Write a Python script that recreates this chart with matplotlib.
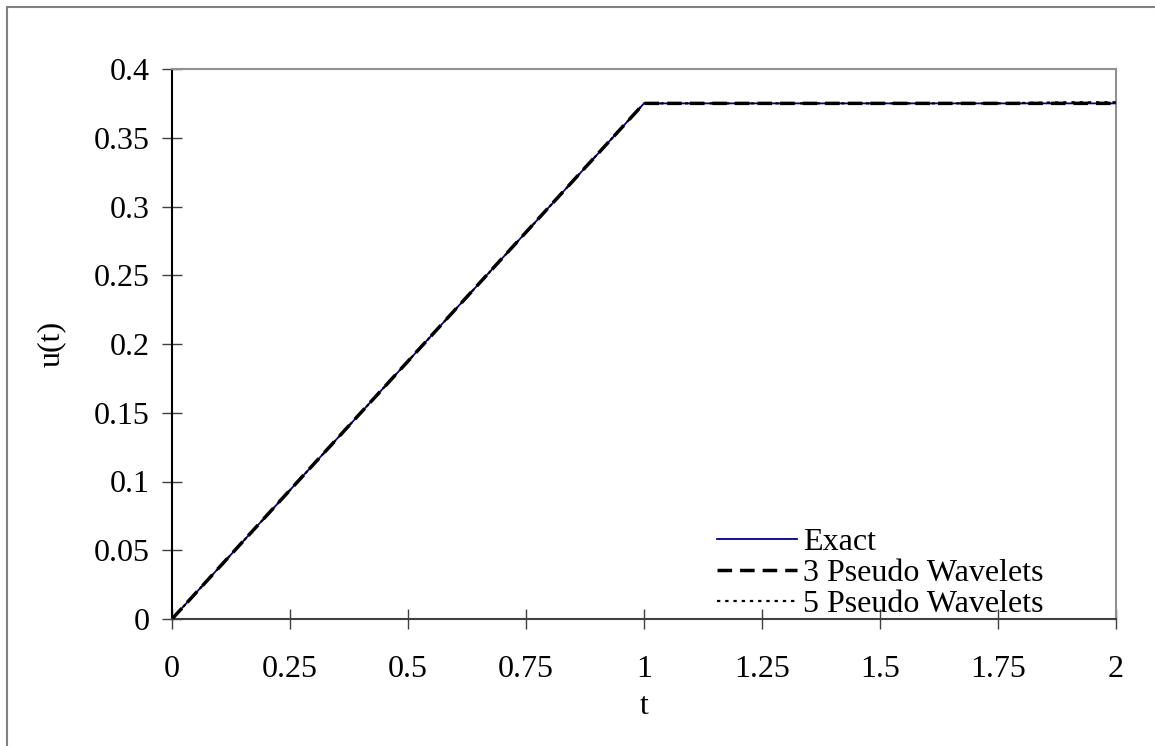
import matplotlib
matplotlib.use("Agg")
import matplotlib.pyplot as plt
from matplotlib.patches import Rectangle

# displacement u(t) for the ramp load, exact vs. wavelet solutions
t_exact = [0, 1, 2]
u_exact = [0, 0.375, 0.375]

t_w3 = [0, 0.25, 0.5, 0.75, 1, 1.25, 1.5, 1.75, 2]
u_w3 = [0, 0.0938, 0.1875, 0.2813, 0.375, 0.375, 0.375, 0.375, 0.375]

t_w5 = [0, 0.25, 0.5, 0.75, 1, 1.25, 1.5, 1.75, 1.9, 2]
u_w5 = [0, 0.0937, 0.1875, 0.2812, 0.375, 0.375, 0.375, 0.375, 0.3758, 0.3758]

xticks = [0, 0.25, 0.5, 0.75, 1, 1.25, 1.5, 1.75, 2]
xlabels = ["0", "0.25", "0.5", "0.75", "1", "1.25", "1.5", "1.75", "2"]
yticks = [0, 0.05, 0.1, 0.15, 0.2, 0.25, 0.3, 0.35, 0.4]
ylabels = ["0", "0.05", "0.1", "0.15", "0.2", "0.25", "0.3", "0.35", "0.4"]

plt.rcParams["font.family"] = "Liberation Serif"
plt.rcParams["font.size"] = 23

fig = plt.figure(figsize=(11.55, 7.46), dpi=100)
# outer chart border
fig.patches.append(Rectangle((7 / 1155, -0.1), 1.2, (746 - 7) / 746 + 0.1,
                             transform=fig.transFigure, fill=False,
                             edgecolor="#808080", linewidth=1.5))

ax = fig.add_axes([172 / 1155, 127 / 746, 944 / 1155, 550 / 746])

ax.plot(t_exact, u_exact, color="#000080", linewidth=1.3, label="Exact", zorder=3)
ax.plot(t_w3, u_w3, color="black", linewidth=2.5, dashes=(4.2, 2.3),
        label="3 Pseudo Wavelets", zorder=4)
ax.plot(t_w5, u_w5, color="black", linewidth=1.6, dashes=(1.5, 2.2),
        label="5 Pseudo Wavelets", zorder=5)

ax.set_xlim(0, 2)
ax.set_ylim(0, 0.4)
ax.set_xticks(xticks)
ax.set_xticklabels(xlabels)
ax.set_yticks(yticks)
ax.set_yticklabels(ylabels)
ax.tick_params(direction="inout", length=14, width=1, color="#404040")
ax.tick_params(axis="y", pad=9)
ax.tick_params(axis="x", pad=19)

ax.spines["left"].set_color("black")
ax.spines["bottom"].set_color("#404040")
ax.spines["top"].set_color("#909090")
ax.spines["right"].set_color("#909090")
for s in ax.spines.values():
    s.set_linewidth(1.5)

ax.set_xlabel("t", labelpad=6)
ax.set_ylabel("u(t)", labelpad=20)

ax.legend(loc="lower left", bbox_to_anchor=(0.577, 0.0), frameon=False,
          handlelength=2.5, handletextpad=0.2, labelspacing=0.05,
          borderpad=0, borderaxespad=0)

fig.savefig("out.png", dpi=100)
